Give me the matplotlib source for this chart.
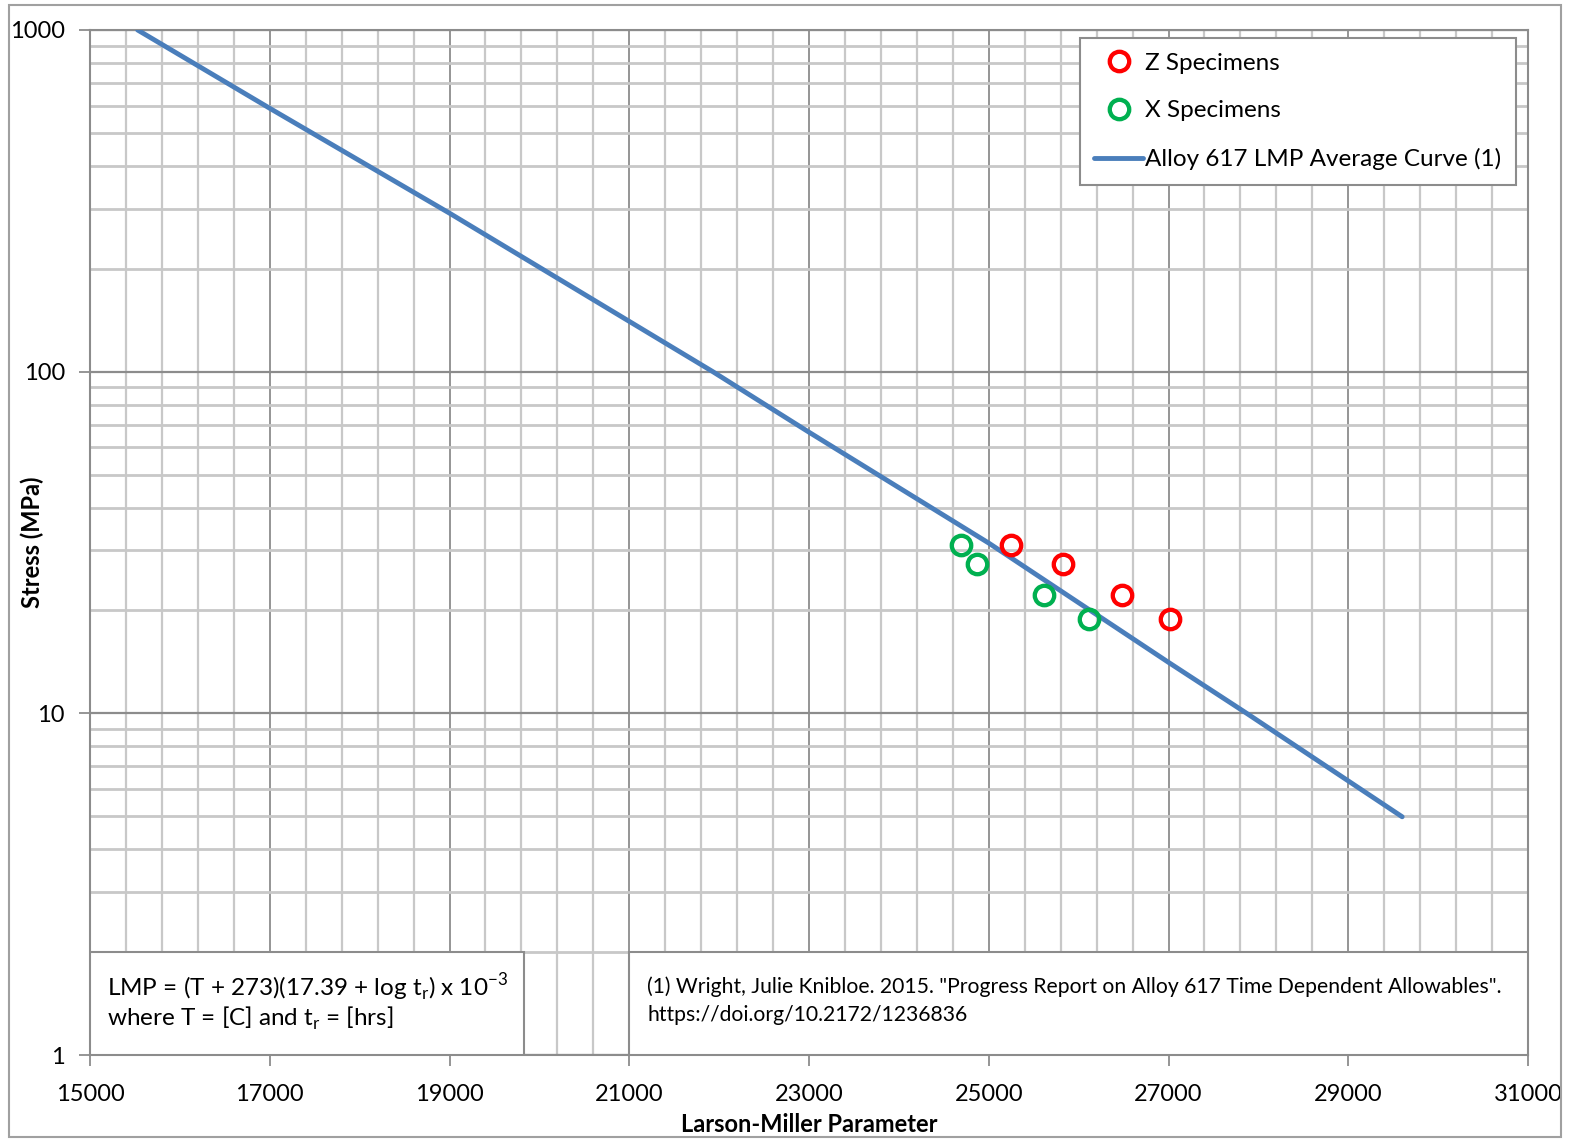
import numpy as np
import matplotlib
matplotlib.use('Agg')
import matplotlib.pyplot as plt
from matplotlib.ticker import FixedLocator, LogLocator, NullFormatter, FuncFormatter
from matplotlib.patches import Rectangle

plt.rcParams['font.family'] = ['Lato', 'DejaVu Sans']
plt.rcParams['mathtext.fontset'] = 'custom'
plt.rcParams['mathtext.rm'] = 'Lato'

# Z specimens (red) and X specimens (green): LMP, stress (MPa)
z_lmp = [25250, 25830, 26480, 27020]
z_stress = [31.0, 27.4, 22.2, 18.9]
x_lmp = [24690, 24870, 25610, 26120]
x_stress = [31.0, 27.4, 22.2, 18.9]

# Alloy 617 LMP average curve
curve_lmp = [15530, 17000, 19000, 21930, 23000, 25000, 27000, 27870, 29600]
curve_stress = [1000, 590, 291, 100, 66.5, 31.5, 14.1, 10.0, 4.98]

x_ticks = [15000, 17000, 19000, 21000, 23000, 25000, 27000, 29000, 31000]
y_ticks = [1, 10, 100, 1000]

fig = plt.figure(figsize=(15.70, 11.39), dpi=100)
ax = fig.add_axes([90/1570, 1-1055/1139, (1528-90)/1570, (1055-30)/1139])

ax.set_xscale('linear')
ax.set_yscale('log')
ax.set_xlim(15000, 31000)
ax.set_ylim(1, 1000)

# grid
ax.xaxis.set_major_locator(FixedLocator(x_ticks))
ax.xaxis.set_minor_locator(FixedLocator(np.arange(15000, 31001, 400)))
ax.yaxis.set_major_locator(FixedLocator(y_ticks))
ax.yaxis.set_minor_locator(LogLocator(base=10, subs=np.arange(2, 10)))
ax.yaxis.set_minor_formatter(NullFormatter())
ax.yaxis.set_major_formatter(FuncFormatter(lambda v, p: '%d' % v))
ax.grid(which='minor', axis='x', color='#c8c8c8', lw=1.6, zorder=0)
ax.grid(which='minor', axis='y', color='#c8c8c8', lw=2.0, zorder=0)
ax.grid(which='major', axis='x', color='#8c8c8c', lw=1.3, zorder=0)
ax.grid(which='major', axis='y', color='#8c8c8c', lw=1.6, zorder=0)
ax.set_axisbelow(True)

for s in ax.spines.values():
    s.set_color('#8c8c8c')
    s.set_linewidth(1.5)

ax.tick_params(which='major', length=8, width=1.3, color='#8c8c8c', labelsize=17, pad=10)
ax.tick_params(which='minor', length=0)
ax.tick_params(axis='x', pad=13)

ax.plot(curve_lmp, curve_stress, color='#4a7ebb', lw=3.5, zorder=3,
        solid_capstyle='round', label='Alloy 617 LMP Average Curve (1)')
ax.plot(z_lmp, z_stress, 'o', ms=14, mfc='none', mec='#ff0000', mew=3.1,
        zorder=4, label='Z Specimens')
ax.plot(x_lmp, x_stress, 'o', ms=14, mfc='none', mec='#00b050', mew=3.1,
        zorder=4, label='X Specimens')

h, l = ax.get_legend_handles_labels()
order = [1, 2, 0]
leg = ax.legend([h[i] for i in order], [l[i] for i in order], loc='upper right',
                bbox_to_anchor=(1 - 12/1438, 1 - 8/1025), fontsize=17.5,
                frameon=True, fancybox=False, framealpha=1, edgecolor='#8c8c8c',
                handlelength=2.0, handletextpad=0.1, labelspacing=1.1,
                borderpad=0.6, borderaxespad=0)
leg.get_frame().set_linewidth(1.5)
leg.set_zorder(6)

# text boxes at the bottom
ax.add_patch(Rectangle((15000, 1), 4830, 1, facecolor='white', edgecolor='#8c8c8c',
                       lw=1.5, zorder=5))
ax.add_patch(Rectangle((21000, 1), 10000, 1, facecolor='white', edgecolor='#8c8c8c',
                       lw=1.5, zorder=5))
ax.text(15190, 1.57, r'LMP = (T + 273)(17.39 + log t$_\mathregular{r}$) x 10$^\mathregular{-3}$',
        fontsize=17.5, va='center', ha='left', zorder=6)
ax.text(15190, 1.28, r'where T = [C] and t$_\mathregular{r}$ = [hrs]',
        fontsize=17.5, va='center', ha='left', zorder=6)
ax.text(21200, 1.58, '(1) Wright, Julie Knibloe. 2015. "Progress Report on Alloy 617 Time Dependent Allowables".',
        fontsize=15.2, va='center', ha='left', zorder=6)
ax.text(21200, 1.31, 'https://doi.org/10.2172/1236836',
        fontsize=15.2, va='center', ha='left', zorder=6)

ax.set_xlabel('Larson-Miller Parameter', fontsize=17, fontweight='bold', labelpad=6)
ax.set_ylabel('Stress (MPa)', fontsize=17, fontweight='bold')
ax.yaxis.set_label_coords((44 - 90) / 1438, 0.5)

# outer frame of the chart area
fig.patches.append(Rectangle((9/1570, 0.002), 1-18/1570, 1-5/1139-0.002,
                             transform=fig.transFigure, fill=False,
                             edgecolor='#a0a0a0', lw=1.5))

fig.savefig('out.png', dpi=100)
